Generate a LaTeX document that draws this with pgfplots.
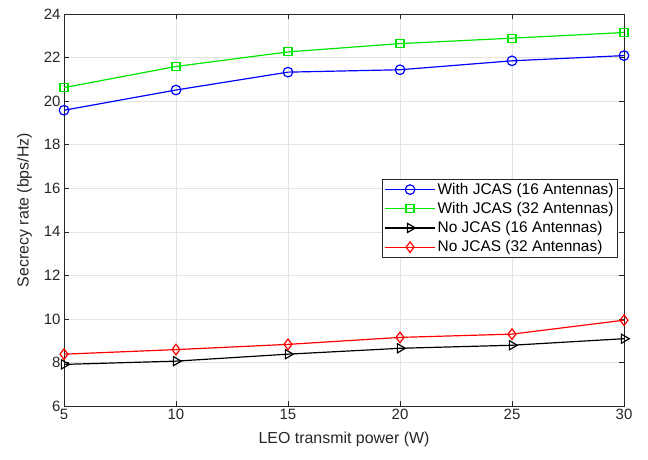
\documentclass[border=0pt]{standalone}
\usepackage{fontspec}
\setmainfont{Liberation Sans}
\usepackage{pgfplots}
\pgfplotsset{compat=1.18}
\definecolor{axgray}{RGB}{38,38,38}
\definecolor{mgreen}{RGB}{0,230,0}
\begin{document}
\begin{tikzpicture}
\path[use as bounding box] (0,0) rectangle (648bp,460bp);
\begin{axis}[
  at={(64bp,54bp)}, anchor=south west,
  scale only axis, width=560bp, height=392bp,
  xmin=5, xmax=30, ymin=6, ymax=24,
  xtick={5,10,...,30}, ytick={6,8,...,24},
  grid=major, grid style={gray!22, line width=0.5pt},
  axis line style={axgray, line width=0.5pt},
  tick style={axgray, line width=0.5pt},
  tick align=inside, major tick length=5bp,
  ticklabel style={font=\fontsize{15}{17}\selectfont, text=axgray},
  /pgf/number format/assume math mode=true,
  xlabel={LEO transmit power (W)}, ylabel={Secrecy rate (bps/Hz)},
  label style={font=\fontsize{16}{18}\selectfont, text=axgray},
  xlabel style={yshift=-5bp},
  ylabel style={yshift=5bp},
  legend style={at={(rel axis cs:0.989,0.579)}, anchor=north east,
    font=\fontsize{15.5}{17}\selectfont, draw=axgray, line width=0.5pt,
    inner sep=2bp, row sep=2.5bp, cells={anchor=west}},
  legend cell align=left,
  legend image code/.code={\draw[mark repeat=2,mark phase=2,#1] plot coordinates {(0bp,0bp) (25bp,0bp) (50bp,0bp)};},
  every axis plot/.append style={line width=1.2pt},
]
\addplot[blue, mark=o, mark size=4.8bp, mark options={line width=1.2pt}] coordinates {
(5,19.58) (10,20.51) (15,21.33) (20,21.44) (25,21.85) (30,22.09)};
\addlegendentry{With JCAS (16 Antennas)}
\addplot[mgreen, mark=square, mark size=4bp, mark options={line width=1.2pt}] coordinates {
(5,20.62) (10,21.59) (15,22.26) (20,22.64) (25,22.89) (30,23.15)};
\addlegendentry{With JCAS (32 Antennas)}
\addplot[black, mark=triangle, mark size=5.3bp, mark options={rotate=-90, line width=1.2pt}] coordinates {
(5,7.91) (10,8.06) (15,8.38) (20,8.65) (25,8.79) (30,9.09)};
\addlegendentry{No JCAS (16 Antennas)}
\addplot[red, mark=diamond, mark size=5.3bp, mark options={line width=1.2pt}] coordinates {
(5,8.38) (10,8.59) (15,8.83) (20,9.15) (25,9.30) (30,9.94)};
\addlegendentry{No JCAS (32 Antennas)}
\end{axis}
\end{tikzpicture}
\end{document}
